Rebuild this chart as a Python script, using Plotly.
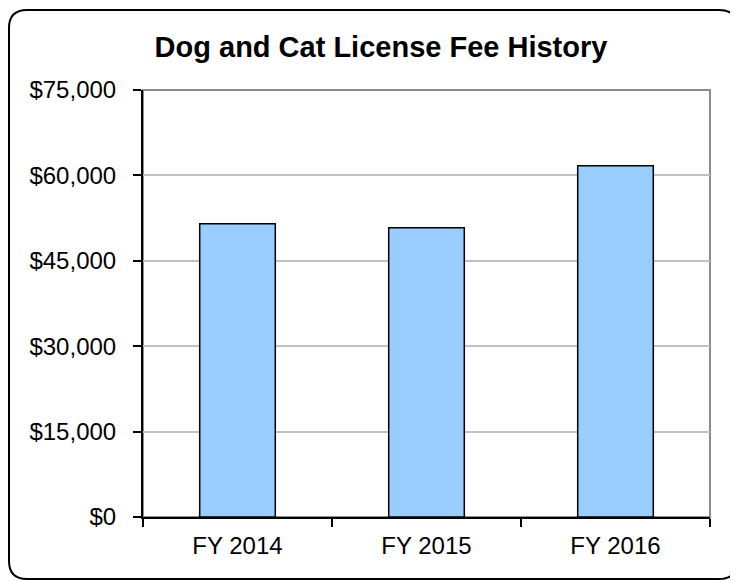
import plotly.graph_objects as go

categories = ["FY 2014", "FY 2015", "FY 2016"]
fees = [51500, 50800, 61700]
y_ticks = [0, 15000, 30000, 45000, 60000, 75000]
y_tick_labels = ["$0", "$15,000", "$30,000", "$45,000", "$60,000", "$75,000"]

# the page adds an 8px offset, so the figure is laid out in shifted pixels
OFF = 8
W, H = 738 - OFF, 581 - OFF
L, R, T, B = 143 - OFF, 710 - OFF, 90 - OFF, 517 - OFF

def px(x):
    return (x - L) / (R - L)

def py(y):
    return (B - y) / (B - T)

# rounded outer border path (paper coords)
x0, x1, y0, y1, r = 9 - OFF, 737 - OFF, 10 - OFF, 579 - OFF, 18
pts = [
    f"M {px(x0 + r)},{py(y0)}",
    f"L {px(x1 - r)},{py(y0)}",
    f"Q {px(x1)},{py(y0)} {px(x1)},{py(y0 + r)}",
    f"L {px(x1)},{py(y1 - r)}",
    f"Q {px(x1)},{py(y1)} {px(x1 - r)},{py(y1)}",
    f"L {px(x0 + r)},{py(y1)}",
    f"Q {px(x0)},{py(y1)} {px(x0)},{py(y1 - r)}",
    f"L {px(x0)},{py(y0 + r)}",
    f"Q {px(x0)},{py(y0)} {px(x0 + r)},{py(y0)}",
    "Z",
]
border_path = " ".join(pts)

fig = go.Figure()
fig.add_trace(go.Bar(
    x=categories, y=fees,
    marker=dict(color="#99CCFF", line=dict(color="black", width=1.5)),
    width=0.4,
))

font_family = "Liberation Sans, Arial, sans-serif"

fig.update_layout(
    width=W, height=H,
    margin=dict(l=L, r=W - R, t=T, b=H - B),
    paper_bgcolor="white", plot_bgcolor="white",
    showlegend=False,
    title=dict(
        text="<b>Dog and Cat License Fee History</b>",
        x=(381 - OFF) / W, xref="container", xanchor="center",
        y=1 - (47 - OFF) / H, yref="container", yanchor="middle",
        font=dict(family=font_family, size=29, color="black"),
    ),
    shapes=[
        dict(type="rect", xref="paper", yref="paper", x0=0, x1=1, y0=0, y1=1,
             line=dict(color="#8C8C8C", width=2), layer="below"),
        dict(type="path", xref="paper", yref="paper", path=border_path,
             line=dict(color="black", width=2)),
    ],
)

fig.update_xaxes(
    showline=True, linecolor="black", linewidth=2,
    ticks="outside", tickson="boundaries", ticklen=8, tickwidth=2, tickcolor="black",
    tickfont=dict(family=font_family, size=24, color="black"),
    ticklabelstandoff=6,
    showgrid=False,
)
fig.update_yaxes(
    range=[0, 75000],
    tickvals=y_ticks, ticktext=y_tick_labels,
    showline=True, linecolor="black", linewidth=2,
    ticks="outside", ticklen=8, tickwidth=2, tickcolor="black",
    tickfont=dict(family=font_family, size=24, color="black"),
    ticklabelstandoff=12,
    showgrid=True, gridcolor="#C0C0C0", gridwidth=2,
    zeroline=False,
)

fig.write_html("out.html")
